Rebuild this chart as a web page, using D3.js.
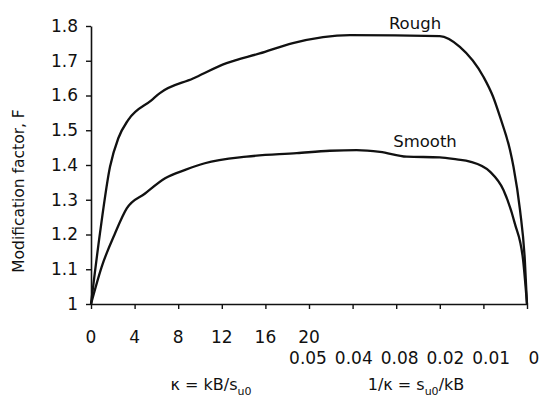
<!DOCTYPE html>
<html><head><meta charset="utf-8">
<script src="https://cdn.jsdelivr.net/npm/d3@7"></script>
<style>body{margin:0;background:#fff}svg{display:block}text{font-family:"DejaVu Sans",sans-serif;fill:#111}</style>
</head><body><svg id="c" width="544" height="398"></svg>
<script>
// positions along x are tick indices 0..10
const kappaTicks = ["0","4","8","12","16","20"];
const invKappaTicks = ["0.05","0.04","0.08","0.02","0.01","0"];
const yTicks = [1,1.1,1.2,1.3,1.4,1.5,1.6,1.7,1.8];
const roughX = [0,0.206,0.436,0.626,0.855,1.392,1.58,2.34,3.11,3.87,4.63,5.94,8.0,8.46,9.0,9.22,9.38,9.61,9.69,9.84,9.95,10];
const roughY = [1.0,1.204,1.395,1.477,1.53,1.587,1.607,1.649,1.693,1.721,1.751,1.774,1.771,1.74,1.654,1.597,1.539,1.443,1.395,1.27,1.127,1.0];
const smoothX = [0,0.245,0.55,0.82,1.24,1.70,2.16,2.61,3.57,4.72,5.48,6.09,6.63,7.24,8.0,8.39,8.69,9.15,9.46,9.72,9.91,10];
const smoothY = [1.0,1.107,1.203,1.275,1.318,1.362,1.386,1.405,1.424,1.434,1.441,1.443,1.438,1.424,1.422,1.416,1.41,1.381,1.328,1.232,1.127,1.0];

const svg = d3.select("#c");
const x = d3.scaleLinear().domain([0,10]).range([91,527]);
const y = d3.scaleLinear().domain([1,1.8]).range([304,26]);
const FONT = "DejaVu Sans, sans-serif";

// y axis
const ya = svg.append("g").attr("transform","translate(91,0)")
  .call(d3.axisLeft(y).tickValues(yTicks).tickFormat(d=>d===1?"1":d3.format(".1f")(d)).tickSize(5).tickSizeOuter(0).tickPadding(8));
ya.select(".domain").attr("stroke","#111").attr("stroke-width",1.6);
ya.selectAll(".tick line").attr("stroke","#111").attr("stroke-width",1.4);
ya.selectAll("text").style("font-size","17px").attr("fill","#111").style("font-family",FONT);

// x axis
const xa = svg.append("g").attr("transform","translate(0,304)")
  .call(d3.axisBottom(x).tickValues(d3.range(0,11)).tickFormat("").tickSize(5).tickSizeOuter(0));
xa.select(".domain").attr("stroke","#111").attr("stroke-width",1.6);
xa.selectAll(".tick line").attr("stroke","#111").attr("stroke-width",1.4);

svg.append("g").selectAll("text").data(kappaTicks).join("text")
  .attr("x",(d,i)=>x(i)).attr("y",343).attr("text-anchor","middle")
  .style("font-size","17px").text(d=>d);
svg.append("g").selectAll("text").data(invKappaTicks).join("text")
  .attr("x",(d,i)=>x(i+5)+ (i===5?7:i*2.2-1)).attr("y",364).attr("text-anchor","middle")
  .style("font-size","17px").text(d=>d);

// axis titles
const t1 = svg.append("text").attr("x",211).attr("y",390).attr("text-anchor","middle").style("font-size","16px");
t1.append("tspan").text("κ = kB/s");
t1.append("tspan").attr("dy",5).style("font-size","11px").text("u0");
const t2 = svg.append("text").attr("x",416).attr("y",390).attr("text-anchor","middle").style("font-size","16px");
t2.append("tspan").text("1/κ = s");
t2.append("tspan").attr("dy",5).style("font-size","11px").text("u0");
t2.append("tspan").attr("dy",-5).text("/kB");

svg.append("text").attr("transform","translate(24,191) rotate(-90)").attr("text-anchor","middle")
  .style("font-size","15.5px").text("Modification factor, F");

// lines
const line = d3.line().x(d=>x(d[0])).y(d=>y(d[1])).curve(d3.curveMonotoneX);
svg.append("path").datum(d3.zip(roughX,roughY)).attr("d",line).attr("fill","none").attr("stroke","#111").attr("stroke-width",2.3);
svg.append("path").datum(d3.zip(smoothX,smoothY)).attr("d",line).attr("fill","none").attr("stroke","#111").attr("stroke-width",2.3);

svg.append("text").attr("x",415).attr("y",29).attr("text-anchor","middle").style("font-size","16.5px").text("Rough");
svg.append("text").attr("x",425).attr("y",147).attr("text-anchor","middle").style("font-size","16.5px").text("Smooth");
</script></body></html>
